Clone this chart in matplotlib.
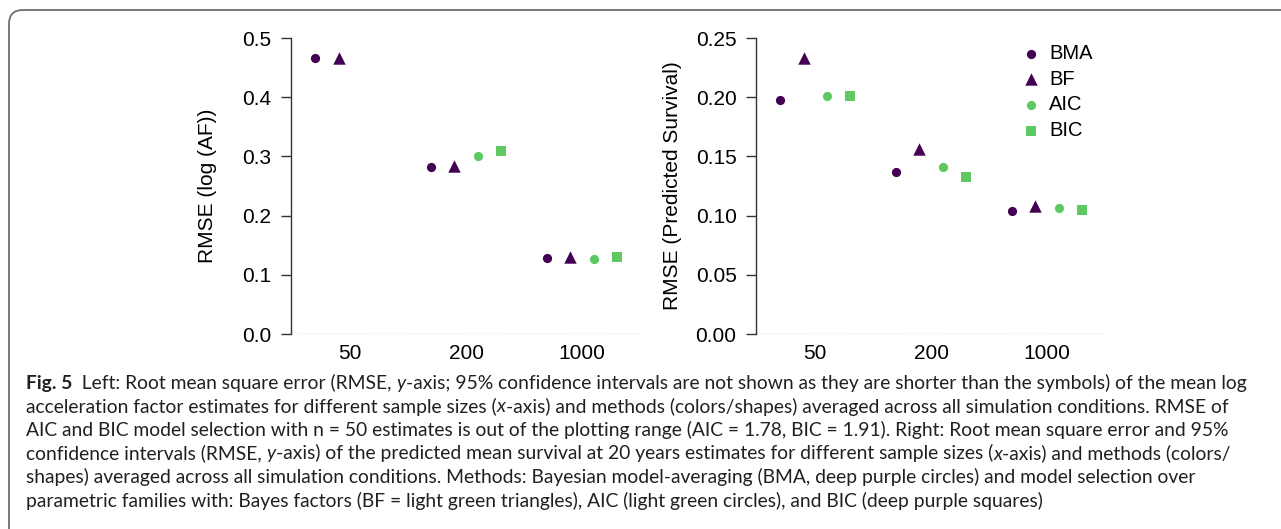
import numpy as np
import matplotlib
matplotlib.use('Agg')
import matplotlib.pyplot as plt
from matplotlib.patches import FancyBboxPatch

# sample sizes on the x-axis and the four methods
sample_sizes = ['50', '200', '1000']
methods = ['BMA', 'BF', 'AIC', 'BIC']
method_colors = ['#440154', '#440154', '#5ec962', '#5ec962']
method_markers = ['o', '^', 'o', 's']
method_sizes = [44, 80, 44, 56]
method_offsets = [-0.3, -0.1, 0.1, 0.3]

# left panel: RMSE of log acceleration factor (AIC/BIC at n=50 off the scale)
af_bma = [0.467, 0.282, 0.128]
af_bf = [0.467, 0.284, 0.130]
af_aic = [np.nan, 0.300, 0.127]
af_bic = [np.nan, 0.309, 0.130]

# right panel: RMSE of predicted survival
surv_bma = [0.198, 0.137, 0.104]
surv_bf = [0.233, 0.156, 0.108]
surv_aic = [0.201, 0.141, 0.106]
surv_bic = [0.201, 0.133, 0.105]

caption_lines = [
    [('Fig. 5', 'bold', 'normal'),
     ('  Left: Root mean square error (RMSE, ', 'normal', 'normal'),
     ('y', 'normal', 'italic'),
     ('-axis; 95% confidence intervals are not shown as they are shorter than the symbols) of the mean log',
      'normal', 'normal')],
    [('acceleration factor estimates for different sample sizes (', 'normal', 'normal'),
     ('x', 'normal', 'italic'),
     ('-axis) and methods (colors/shapes) averaged across all simulation conditions. RMSE of',
      'normal', 'normal')],
    [('AIC and BIC model selection with n = 50 estimates is out of the plotting range '
      '(AIC = 1.78, BIC = 1.91). Right: Root mean square error and 95%', 'normal', 'normal')],
    [('confidence intervals (RMSE, ', 'normal', 'normal'),
     ('y', 'normal', 'italic'),
     ('-axis) of the predicted mean survival at 20 years estimates for different sample sizes (',
      'normal', 'normal'),
     ('x', 'normal', 'italic'),
     ('-axis) and methods (colors/', 'normal', 'normal')],
    [('shapes) averaged across all simulation conditions. Methods: Bayesian model-averaging '
      '(BMA, deep purple circles) and model selection over', 'normal', 'normal')],
    [('parametric families with: Bayes factors (BF = light green triangles), AIC (light green circles), '
      'and BIC (deep purple squares)', 'normal', 'normal')],
]

DPI = 100
W, H = 1281, 529
plt.rcParams['font.family'] = ['Liberation Sans', 'DejaVu Sans']

fig = plt.figure(figsize=(W / DPI, H / DPI), dpi=DPI)


def px_rect(x0, x1, y_top, y_bot):
    return [x0 / W, (H - y_bot) / H, (x1 - x0) / W, (y_bot - y_top) / H]


def draw_panel(ax, series, ymax, ystep, fmt, ylabel):
    x = np.arange(1, len(sample_sizes) + 1)
    for vals, name, col, mk, sz, off in zip(series, methods, method_colors,
                                            method_markers, method_sizes,
                                            method_offsets):
        ax.scatter(x + off, vals, marker=mk, s=sz, color=col, lw=0,
                   label=name, clip_on=False, zorder=3)
    ax.set_xlim(0.49, 3.5)
    ax.set_ylim(0, ymax)
    ticks = np.arange(0, ymax + ystep / 2, ystep)
    ax.set_yticks(ticks)
    ax.set_yticklabels([fmt.format(t) for t in ticks])
    ax.set_xticks(x)
    ax.set_xticklabels(sample_sizes)
    for s in ['top', 'right', 'bottom']:
        ax.spines[s].set_visible(False)
    ax.spines['left'].set_color('#333333')
    ax.spines['left'].set_linewidth(1.0)
    ax.axhline(0, color='#777777', lw=1.0, ls=(0, (1, 2)), zorder=1)
    ax.tick_params(axis='y', length=7, width=1.0, color='#333333',
                   labelsize=15, pad=7)
    ax.tick_params(axis='x', length=0, labelsize=15, pad=7)
    ax.set_ylabel(ylabel, fontsize=15, va='center')
    ax.yaxis.set_label_coords(-0.238, 0.5)


ax1 = fig.add_axes(px_rect(291, 640, 38, 334))
draw_panel(ax1, [af_bma, af_bf, af_aic, af_bic], 0.5, 0.1, '{:.1f}',
           'RMSE (log (AF))')

ax2 = fig.add_axes(px_rect(756, 1105, 38, 334))
draw_panel(ax2, [surv_bma, surv_bf, surv_aic, surv_bic], 0.25, 0.05, '{:.2f}',
           'RMSE (Predicted Survival)')
ax2.legend(loc='upper left', bbox_to_anchor=(0.745, 0.98), frameon=False,
           fontsize=14.5, handletextpad=0.15, labelspacing=0.33,
           borderaxespad=0, borderpad=0, handlelength=1.5)

# border of the figure box: only the top and left edges show
box = FancyBboxPatch((9 / DPI, -1.0), (W + 100) / DPI, (H - 10) / DPI + 1.0,
                     boxstyle='round,pad=0,rounding_size=0.14',
                     transform=fig.dpi_scale_trans, fill=False,
                     edgecolor='#707070', lw=1.3, clip_on=False)
fig.add_artist(box)

# caption, fitted to the width of the first line
renderer = fig.canvas.get_renderer()
cap_font = 'Lato'
cap_left = 26
cap_right = 1246


def put_line(runs, x, y, size):
    texts = []
    for txt, weight, style in runs:
        t = fig.text(x / DPI, (H - y) / DPI, txt, transform=fig.dpi_scale_trans,
                     fontsize=size, fontweight=weight, fontstyle=style,
                     family=cap_font, color='#231f20', va='baseline', ha='left')
        x += t.get_window_extent(renderer).width
        texts.append(t)
    return x, texts


end, tmp = put_line(caption_lines[0], cap_left, 390, 10)
for t in tmp:
    t.remove()
cap_size = 10 * (cap_right - cap_left) / (end - cap_left)

baselines = [389, 412.5, 436, 459.5, 483, 506.5]
for runs, yb in zip(caption_lines, baselines):
    put_line(runs, cap_left, yb, cap_size)

fig.savefig('out.png', dpi=DPI)
